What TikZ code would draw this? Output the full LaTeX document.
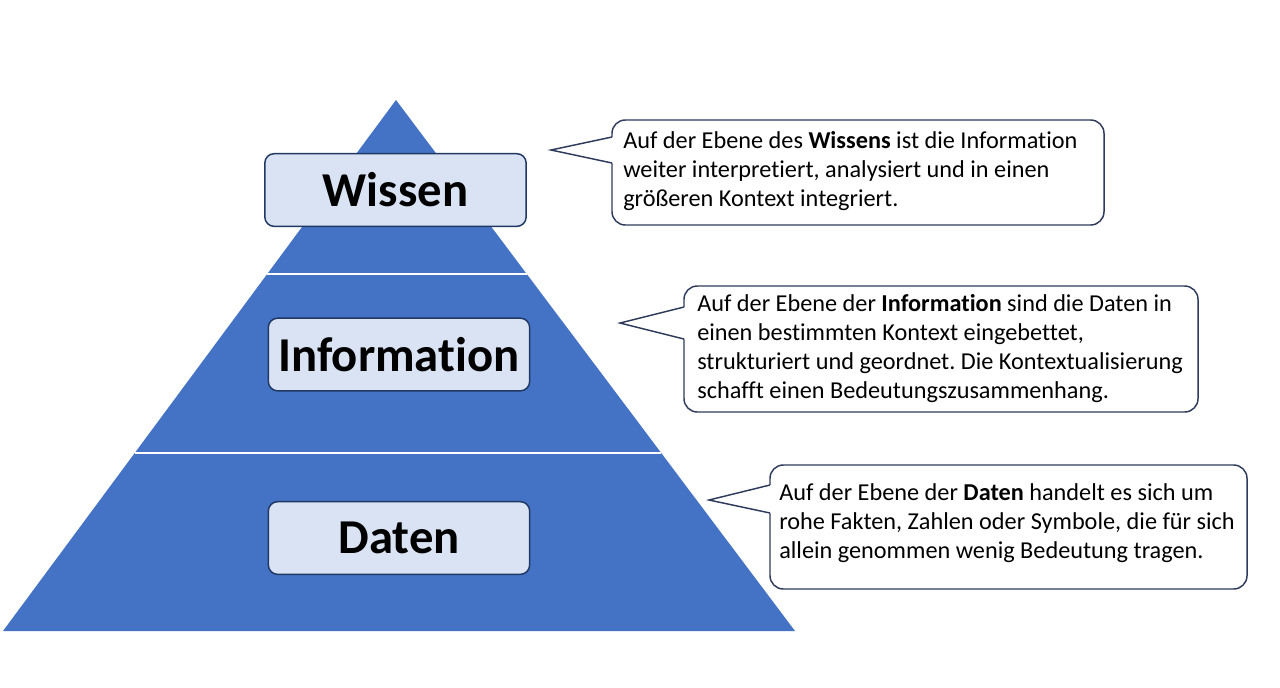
\documentclass[tikz,border=0pt]{standalone}
\usepackage{fontspec}
\setmainfont{Carlito}[Ligatures=NoCommon]
\frenchspacing
\usetikzlibrary{calc}
\definecolor{pyrblue}{HTML}{4472C4}
\definecolor{labelfill}{HTML}{DAE3F3}
\definecolor{labelline}{HTML}{1F3864}
\definecolor{noteline}{HTML}{2F3B5C}
\tikzset{
  level label/.style={draw=labelline, fill=labelfill, line width=1.1pt,
    rounded corners=7pt, minimum width=196pt, minimum height=54.5pt,
    font=\fontsize{36.5}{40}\selectfont\bfseries},
  note text/.style={inner sep=0pt, align=left, anchor=west,
    font=\fontsize{18.2}{21.75}\selectfont},
  note frame/.style={draw=noteline, line width=1.1pt, fill=white, rounded corners=10pt},
  note tip/.style={draw=noteline, line width=1.1pt, line join=miter},
}
\begin{document}
\begin{tikzpicture}[x=0.75pt,y=-0.75pt]
		\useasboundingbox[fill=white] (0,0) rectangle (1280,687);
		% pyramid
		\coordinate (apex) at (396,100);
		\coordinate (baseL) at (3,631);
		\coordinate (baseR) at (795,631);
		\fill[pyrblue] (apex) -- (baseR) -- (baseL) -- cycle;
		\draw[white, line width=1.5pt] ($(baseL)!0.6723!(apex)$) -- ($(baseR)!0.6723!(apex)$);
		\draw[white, line width=1.5pt] ($(baseL)!0.3352!(apex)$) -- ($(baseR)!0.3352!(apex)$);
		% level labels
		\node[level label] (wissen) at (395.5,190) {Wissen};
		\node[level label] (information) at (399,354.5) {Information};
		\node[level label] (daten) at (399,538) {Daten};
		% callout frames: left/top/right/bottom, tip x/y, joins
		\foreach \l/\t/\r/\b/\tx/\ty/\ja/\jb in {
				612/120/1104/225/551/150/137/163,
				684/286/1198/412/620/323/307/339,
				770/465/1247/589/709/500/485/513}{
				\draw[note frame] (\l,\t) rectangle (\r,\b);
				\fill[white] (\tx,\ty) -- (\l,\ja) -- (\l+2,\ja) -- (\l+2,\jb) -- (\l,\jb) -- cycle;
				\draw[note tip] (\l,\ja) -- (\tx,\ty) -- (\l,\jb);
			}
		% callout texts
		\node[note text] (wissenNote) at (623,171.5)
		{Auf der Ebene des \textbf{Wissens} ist die Information\\
			weiter interpretiert, analysiert und in einen\\
			größeren Kontext integriert.};
		\node[note text] (informationNote) at (697,348.5)
		{Auf der Ebene der \textbf{Information} sind die Daten in\\
			einen bestimmten Kontext eingebettet,\\
			strukturiert und geordnet. Die Kontextualisierung\\
			schafft einen Bedeutungszusammenhang.};
		\node[note text] (datenNote) at (779,523)
		{Auf der Ebene der \textbf{Daten} handelt es sich um\\
			rohe Fakten, Zahlen oder Symbole, die für sich\\
			allein genommen wenig Bedeutung tragen.};
	\end{tikzpicture}
\end{document}
